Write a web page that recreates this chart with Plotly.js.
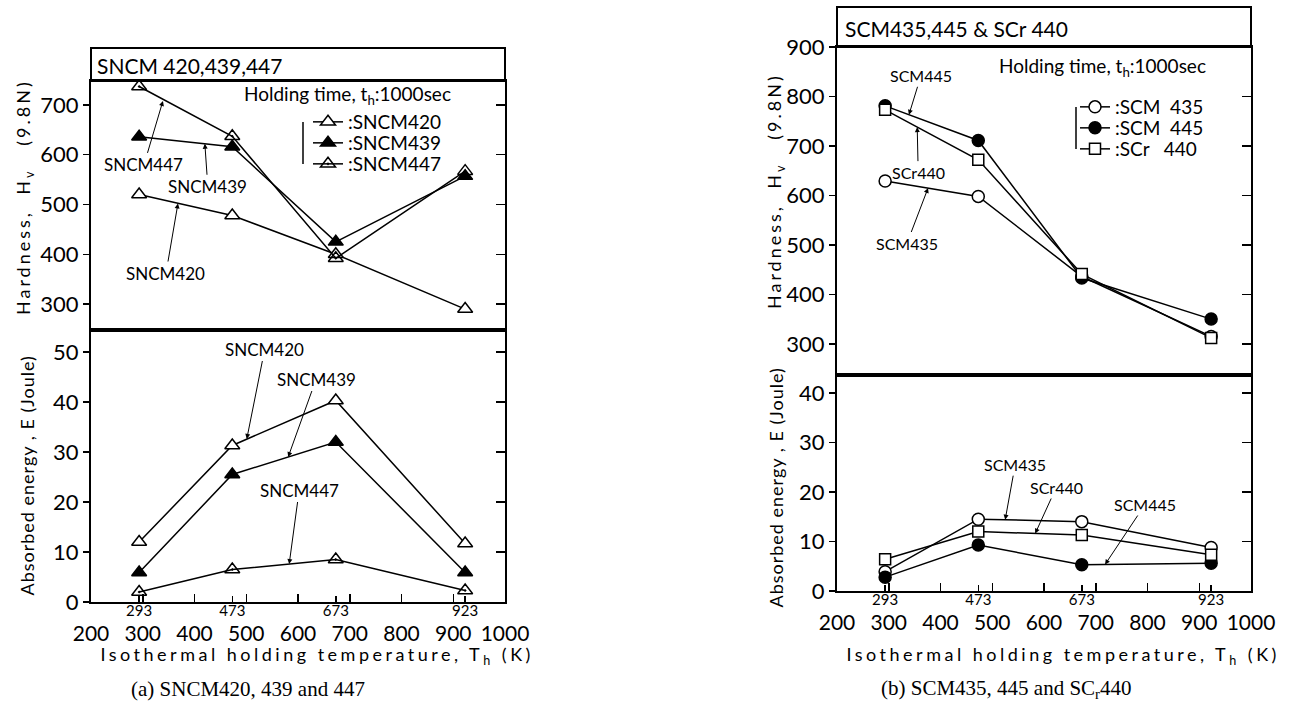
<!DOCTYPE html>
<html>
<head>
<meta charset="utf-8">
<script src="https://cdn.plot.ly/plotly-3.0.1.min.js"></script>
<style>
html,body{margin:0;padding:0;background:#fff;}
#chart{width:1306px;height:722px;}
.annotation[data-index="0"] text,.annotation[data-index="2"] text{letter-spacing:3px;}
.annotation[data-index="1"] text,.annotation[data-index="3"] text{letter-spacing:1px;}
.annotation[data-index="4"] text,.annotation[data-index="5"] text{letter-spacing:3.5px;}
</style>
</head>
<body>
<div id="chart"></div>
<script>
// ---------------- data ----------------
const temps = [293, 473, 673, 923];
const tempLabels = ['293', '473', '673', '923'];
const xMainTicks = [200, 300, 400, 500, 600, 700, 800, 900, 1000];

// (a) SNCM420, 439, 447
const hv_SNCM420 = [520, 478, 400, 290];
const hv_SNCM439 = [636, 616, 425, 557];
const hv_SNCM447 = [737, 637, 392, 567];
const e_SNCM420 = [12.0, 31.3, 40.3, 11.7];
const e_SNCM439 = [5.9, 25.5, 32.0, 5.9];
const e_SNCM447 = [2.0, 6.5, 8.5, 2.3];

// (b) SCM435, 445 and SCr440
const hv_SCM435 = [629, 598, 436, 315];
const hv_SCM445 = [781, 711, 433, 350];
const hv_SCr440 = [773, 672, 441, 312];
const e_SCM435 = [3.9, 14.5, 14.0, 8.8];
const e_SCM445 = [2.8, 9.3, 5.3, 5.6];
const e_SCr440 = [6.4, 12.0, 11.3, 7.3];

const hvTicksA = [300, 400, 500, 600, 700];
const eTicksA = [0, 10, 20, 30, 40, 50];
const hvTicksB = [300, 400, 500, 600, 700, 800, 900];
const eTicksB = [0, 10, 20, 30, 40];

// ---------------- styling helpers ----------------
const W = 1306, H = 722;
const px = v => v / W;
const py = v => 1 - v / H;
const FAM = 'Lato, "DejaVu Sans", sans-serif';
const TF = {family: FAM, size: 22, color: '#000'};

const styles = {
  SNCM420: {symbol: 'triangle-up', color: '#fff', size: 13},
  SNCM439: {symbol: 'triangle-up', color: '#000', size: 13},
  SNCM447: {symbol: 'triangle-up-open-dot', color: '#000', size: 13},
  SCM435: {symbol: 'circle', color: '#fff', size: 12},
  SCM445: {symbol: 'circle', color: '#000', size: 12},
  SCr440: {symbol: 'square', color: '#fff', size: 11}
};

function tr(y, key, name, xa, ya, legend, showleg) {
  const s = styles[key];
  return {
    x: temps, y: y, type: 'scatter', mode: 'lines+markers',
    name: name, xaxis: xa, yaxis: ya, legend: legend, showlegend: showleg,
    line: {color: '#000', width: 1.5},
    marker: {symbol: s.symbol, color: s.color, size: s.size, line: {color: '#000', width: 1.5}},
    hoverinfo: 'x+y+name'
  };
}
// empty helper traces so that the overlaid tick-only axes get drawn
function axisHolder(xa, ya) {
  return {x: [], y: [], type: 'scatter', mode: 'markers', xaxis: xa, yaxis: ya,
    showlegend: false, hoverinfo: 'skip'};
}

const data = [
  tr(hv_SNCM420, 'SNCM420', ':SNCM420', 'x', 'y', 'legend', true),
  tr(hv_SNCM439, 'SNCM439', ':SNCM439', 'x', 'y', 'legend2', true),
  tr(hv_SNCM447, 'SNCM447', ':SNCM447', 'x', 'y', 'legend3', true),
  tr(e_SNCM420, 'SNCM420', 'SNCM420', 'x2', 'y2', 'legend', false),
  tr(e_SNCM439, 'SNCM439', 'SNCM439', 'x2', 'y2', 'legend', false),
  tr(e_SNCM447, 'SNCM447', 'SNCM447', 'x2', 'y2', 'legend', false),
  tr(hv_SCM435, 'SCM435', ':SCM\u00a0\u00a0435', 'x3', 'y3', 'legend4', true),
  tr(hv_SCM445, 'SCM445', ':SCM\u00a0\u00a0445', 'x3', 'y3', 'legend5', true),
  tr(hv_SCr440, 'SCr440', ':SCr\u00a0\u00a0\u00a0440', 'x3', 'y3', 'legend6', true),
  tr(e_SCM435, 'SCM435', 'SCM435', 'x4', 'y4', 'legend', false),
  tr(e_SCM445, 'SCM445', 'SCM445', 'x4', 'y4', 'legend', false),
  tr(e_SCr440, 'SCr440', 'SCr440', 'x4', 'y4', 'legend', false),
  axisHolder('x5', 'y2'),
  axisHolder('x6', 'y4'),
  axisHolder('x', 'y5'),
  axisHolder('x2', 'y6'),
  axisHolder('x3', 'y7'),
  axisHolder('x4', 'y8')
];

const frame = {showline: true, linecolor: '#000', linewidth: 2, mirror: true,
  showgrid: false, zeroline: false, tickcolor: '#000', tickwidth: 1.5};
const bare = {showgrid: false, zeroline: false, showline: false, tickcolor: '#000', tickwidth: 1.5};

const LX = [px(91), px(505)];
const RX = [px(837), px(1251)];

function xTop(anchor, dom) {
  return Object.assign({}, frame, {domain: dom, anchor: anchor, range: [200, 1000],
    showticklabels: false, ticks: ''});
}
function xBottom(anchor, dom) {
  return Object.assign({}, frame, {domain: dom, anchor: anchor, range: [200, 1000],
    tickmode: 'array', tickvals: xMainTicks, ticks: 'inside', ticklen: 8,
    ticklabelstandoff: 12, tickfont: {family: FAM, size: 21, color: '#000'}});
}
function xSmall(over, anchor) {
  return Object.assign({}, bare, {overlaying: over, anchor: anchor, side: 'bottom', range: [200, 1000],
    tickmode: 'array', tickvals: temps, ticktext: tempLabels, ticks: 'inside', ticklen: 6,
    ticklabelstandoff: -2, tickfont: {family: FAM, size: 15, color: '#000'}});
}
function yLeft(anchor, dom, rng, tv) {
  return Object.assign({}, frame, {domain: dom, anchor: anchor, range: rng,
    tickmode: 'array', tickvals: tv, ticks: 'outside', ticklen: 6, tickfont: TF});
}
function yRight(over, anchor, rng, tv) {
  return Object.assign({}, bare, {overlaying: over, anchor: anchor, side: 'right', range: rng,
    tickmode: 'array', tickvals: tv, ticks: 'inside', ticklen: 9, showticklabels: false});
}

const AF = {family: FAM, size: 17, color: '#000'};
const AFs = {family: FAM, size: 16, color: '#000'};
function lab(text, xa, ya, x, y, ax, ay, f) {
  return {text: text, xref: xa, yref: ya, x: x, y: y, ax: ax, ay: ay,
    showarrow: true, arrowhead: 2, arrowsize: 1, arrowwidth: 1, arrowcolor: '#000',
    font: f || AF};
}
const TITLEF = {family: FAM, size: 18, color: '#000'};
function ptext(text, x, y, opts) {
  return Object.assign({text: text, xref: 'paper', yref: 'paper', x: px(x), y: py(y),
    showarrow: false, xanchor: 'center', yanchor: 'middle', align: 'center', font: TITLEF}, opts || {});
}

const annotations = [
  // axis-style titles (indices 0..5 carry letter spacing)
  ptext('Hardness,  H<sub>v</sub>\u00a0\u00a0\u00a0(9.8N)', 25, 197, {textangle: -90}),
  ptext('Absorbed energy , E (Joule)', 27, 476, {textangle: -90}),
  ptext('Hardness,  H<sub>v</sub>\u00a0\u00a0\u00a0(9.8N)', 775, 191, {textangle: -90}),
  ptext('Absorbed energy , E (Joule)', 776, 488, {textangle: -90}),
  ptext('Isothermal holding temperature, T<sub>h</sub> (K)', 317, 655),
  ptext('Isothermal holding temperature, T<sub>h</sub> (K)', 1063, 655),
  // captions
  ptext('(a) SNCM420, 439 and 447', 248, 689, {font: {family: '"Liberation Serif", "Times New Roman", serif', size: 21, color: '#000'}}),
  ptext('(b) SCM435, 445 and SC<sub>r</sub>440', 1006, 689, {font: {family: '"Liberation Serif", "Times New Roman", serif', size: 21, color: '#000'}}),
  // panel headers
  ptext('SNCM 420,439,447', 95, 65, {xanchor: 'left', font: {family: FAM, size: 21, color: '#000'}}),
  ptext('SCM435,445 &amp; SCr 440', 843, 29, {xanchor: 'left', font: {family: FAM, size: 21, color: '#000'}}),
  // holding time
  ptext('Holding time, t<sub>h</sub>:1000sec', 347, 95, {font: {family: FAM, size: 19, color: '#000'}}),
  ptext('Holding time, t<sub>h</sub>:1000sec', 1102, 67, {font: {family: FAM, size: 19, color: '#000'}}),
  // curve labels (a) hardness
  lab('SNCM447', 'x', 'y', 339, 708, -19, 64),
  lab('SNCM439', 'x', 'y', 420, 622, 3, 43),
  lab('SNCM420', 'x', 'y', 368, 502, -12, 70),
  // (a) energy
  lab('SNCM420', 'x2', 'y2', 501, 32.6, 18, -90),
  lab('SNCM439', 'x2', 'y2', 581, 29.0, 28, -78),
  lab('SNCM447', 'x2', 'y2', 583, 7.6, 10, -74),
  // (b) hardness
  lab('SCM445', 'x3', 'y3', 339, 763, 12, -39, AFs),
  lab('SCr440', 'x3', 'y3', 355, 738, 1, 45, AFs),
  lab('SCM435', 'x3', 'y3', 376, 615, -21, 55, AFs),
  // (b) energy
  lab('SCM435', 'x4', 'y4', 525, 14.4, 10, -55, AFs),
  lab('SCr440', 'x4', 'y4', 583, 11.6, 21, -46, AFs),
  lab('SCM445', 'x4', 'y4', 718, 5.35, 40, -60, AFs)
];

const shapes = [
  {type: 'rect', xref: 'paper', yref: 'paper', x0: px(91), x1: px(505), y0: py(81), y1: py(48),
    line: {color: '#000', width: 2}},
  {type: 'rect', xref: 'paper', yref: 'paper', x0: px(837), x1: px(1251), y0: py(47), y1: py(7),
    line: {color: '#000', width: 2}},
  // legend brackets
  {type: 'line', xref: 'paper', yref: 'paper', x0: px(303), x1: px(303), y0: py(122), y1: py(164),
    line: {color: '#000', width: 1.5}},
  {type: 'line', xref: 'paper', yref: 'paper', x0: px(1076), x1: px(1076), y0: py(107), y1: py(149),
    line: {color: '#000', width: 1.5}}
];

function leg(xpix, ypix) {
  return {x: px(xpix), y: py(ypix), xanchor: 'left', yanchor: 'middle',
    bgcolor: 'rgba(0,0,0,0)', borderwidth: 0, itemwidth: 30,
    font: {family: FAM, size: 19, color: '#000'}};
}

const layout = {
  width: W, height: H,
  margin: {l: 0, r: 0, t: 0, b: 0},
  paper_bgcolor: '#fff', plot_bgcolor: 'rgba(0,0,0,0)',
  font: {family: FAM, color: '#000'},
  showlegend: true,
  xaxis: xTop('y', LX),
  yaxis: yLeft('x', [py(330), py(81)], [248, 748], hvTicksA),
  xaxis2: xBottom('y2', LX),
  yaxis2: yLeft('x2', [py(602), py(330)], [0, 54.4], eTicksA),
  xaxis3: xTop('y3', RX),
  yaxis3: yLeft('x3', [py(375), py(47)], [237, 900], hvTicksB),
  xaxis4: xBottom('y4', RX),
  yaxis4: yLeft('x4', [py(591), py(375)], [0, 43.6], eTicksB),
  xaxis5: xSmall('x2', 'y2'),
  xaxis6: xSmall('x4', 'y4'),
  yaxis5: yRight('y', 'x', [248, 748], hvTicksA),
  yaxis6: yRight('y2', 'x2', [0, 54.4], eTicksA),
  yaxis7: yRight('y3', 'x3', [237, 900], hvTicksB),
  yaxis8: yRight('y4', 'x4', [0, 43.6], eTicksB),
  legend: leg(308, 122),
  legend2: leg(308, 143),
  legend3: leg(308, 164),
  legend4: leg(1075, 107),
  legend5: leg(1075, 128),
  legend6: leg(1075, 149),
  annotations: annotations,
  shapes: shapes
};

Plotly.newPlot('chart', data, layout, {displayModeBar: false, staticPlot: true});
</script>
</body>
</html>
